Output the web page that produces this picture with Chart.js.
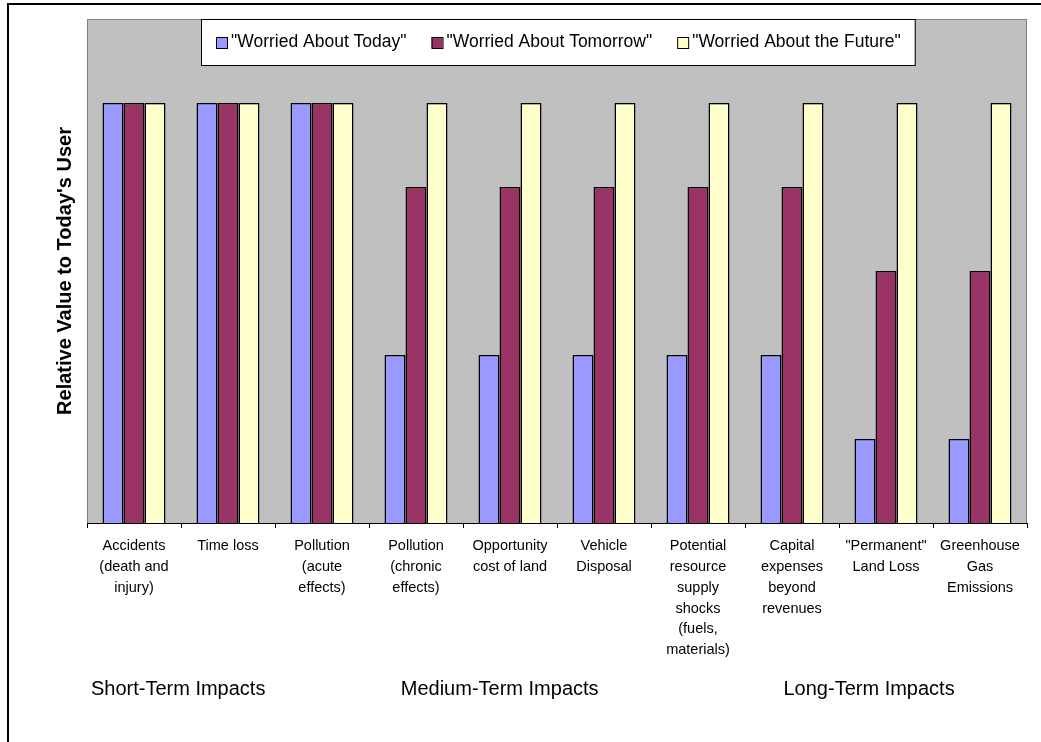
<!DOCTYPE html>
<html>
<head>
<meta charset="utf-8">
<script src="https://cdn.jsdelivr.net/npm/chart.js@4.4.0/dist/chart.umd.min.js"></script>
<style>
  body { margin: 0; background: #fff; }
  canvas { display: block; }
</style>
</head>
<body>
<canvas id="grafico" width="1041" height="742"></canvas>
<script>
const categorias = [
    ['Accidents', '(death and', 'injury)'],
    ['Time loss'],
    ['Pollution', '(acute', 'effects)'],
    ['Pollution', '(chronic', 'effects)'],
    ['Opportunity', 'cost of land'],
    ['Vehicle', 'Disposal'],
    ['Potential', 'resource', 'supply', 'shocks', '(fuels,', 'materials)'],
    ['Capital', 'expenses', 'beyond', 'revenues'],
    ['"Permanent"', 'Land Loss'],
    ['Greenhouse', 'Gas', 'Emissions']
];

const series = ['"Worried About Today"', '"Worried About Tomorrow"', '"Worried About the Future"'];

const hoje = [5, 5, 5, 2, 2, 2, 2, 2, 1, 1];
const amanha = [5, 5, 5, 4, 4, 4, 4, 4, 3, 3];
const futuro = [5, 5, 5, 5, 5, 5, 5, 5, 5, 5];

const grupos = ['Short-Term Impacts', 'Medium-Term Impacts', 'Long-Term Impacts'];

const fonte = 'Liberation Sans, Arial, sans-serif';

// fundo cinza + moldura externa
const fundo = {
    id: 'fundo',
    beforeDraw(chart) {
        const ctx = chart.ctx;
        const a = chart.chartArea;
        ctx.save();
        ctx.fillStyle = '#fff';
        ctx.fillRect(0, 0, chart.width, chart.height);
        ctx.fillStyle = '#c0c0c0';
        ctx.fillRect(a.left, a.top, a.right - a.left, a.bottom - a.top);
        ctx.strokeStyle = '#808080';
        ctx.lineWidth = 1;
        ctx.strokeRect(a.left + 0.5, a.top + 0.5, a.right - a.left - 1, a.bottom - a.top);
        // moldura preta
        ctx.strokeStyle = '#000';
        ctx.lineWidth = 2;
        ctx.beginPath();
        ctx.moveTo(8, chart.height + 2);
        ctx.lineTo(8, 4);
        ctx.lineTo(chart.width + 2, 4);
        ctx.stroke();
        ctx.restore();
    }
};

// legenda desenhada dentro da area, com caixa branca
const legenda = {
    id: 'legenda',
    afterDraw(chart) {
        const ctx = chart.ctx;
        const a = chart.chartArea;
        ctx.save();
        ctx.font = '17.5px ' + fonte;
        const larguras = chart.data.datasets.map(d => ctx.measureText(d.label).width);
        var total = 15 + 14;
        larguras.forEach((w, i) => { total += 11 + 4 + w + (i > 0 ? 25 : 0); });
        const x0 = Math.round((a.left + a.right) / 2 - total / 2) + 1;
        const y0 = a.top;
        ctx.fillStyle = '#fff';
        ctx.fillRect(x0, y0, total, 46);
        ctx.strokeStyle = '#000';
        ctx.lineWidth = 1;
        ctx.strokeRect(x0 + 0.5, y0 + 0.5, total, 46);
        var x = x0 + 15;
        chart.data.datasets.forEach((d, i) => {
            ctx.fillStyle = d.backgroundColor;
            ctx.fillRect(x, y0 + 18, 11, 11);
            ctx.strokeRect(x + 0.5, y0 + 18.5, 11, 11);
            ctx.fillStyle = '#000';
            ctx.textBaseline = 'middle';
            ctx.textAlign = 'left';
            ctx.fillText(d.label, x + 15, y0 + 23);
            x += 11 + 4 + larguras[i] + 25;
        });
        ctx.restore();
    }
};

// rotulos dos grupos embaixo
const rotulosGrupo = {
    id: 'rotulosGrupo',
    afterDraw(chart) {
        const ctx = chart.ctx;
        const xs = chart.scales.x;
        const onde = [0.47, 3.89, 7.82];
        ctx.save();
        ctx.font = '20px ' + fonte;
        ctx.fillStyle = '#000';
        ctx.textAlign = 'center';
        ctx.textBaseline = 'middle';
        grupos.forEach((g, i) => {
            ctx.fillText(g, xs.getPixelForValue(onde[i]), 689);
        });
        ctx.restore();
    }
};

const data = {
    labels: categorias,
    datasets: [{
        label: series[0],
        data: hoje,
        backgroundColor: '#9999ff',
        borderColor: '#000',
        borderWidth: 1.5
    }, {
        label: series[1],
        data: amanha,
        backgroundColor: '#993366',
        borderColor: '#000',
        borderWidth: 1.5
    }, {
        label: series[2],
        data: futuro,
        backgroundColor: '#ffffcc',
        borderColor: '#000',
        borderWidth: 1.5
    }]
};

const config = {
    type: 'bar',
    data: data,
    plugins: [fundo, legenda, rotulosGrupo],
    options: {
        responsive: false,
        animation: false,
        layout: { padding: { top: 19, right: 14, left: 0, bottom: 0 } },
        datasets: {
            bar: { categoryPercentage: 0.67, barPercentage: 1.0 }
        },
        plugins: {
            legend: { display: false },
            tooltip: { enabled: false }
        },
        scales: {
            x: {
                grid: {
                    display: true,
                    drawOnChartArea: false,
                    drawTicks: true,
                    tickLength: 5,
                    color: '#000',
                    offset: true
                },
                border: { display: true, color: '#000', width: 1 },
                ticks: {
                    autoSkip: false,
                    maxRotation: 0,
                    minRotation: 0,
                    padding: 8,
                    color: '#000',
                    font: { family: fonte, size: 14.5, lineHeight: 1.43 }
                },
                afterFit(scale) { scale.height = 742 - 523; }
            },
            y: {
                min: 0,
                max: 6,
                grid: { display: false },
                border: { display: false },
                ticks: { display: false },
                title: {
                    display: true,
                    text: "Relative Value to Today's User",
                    color: '#000',
                    font: { family: fonte, size: 20, weight: 'bold', lineHeight: 1.2 },
                    padding: { top: 53, bottom: 0 }
                },
                afterFit(scale) { scale.width = 87; }
            }
        }
    }
};

const myChart = new Chart(document.getElementById('grafico'), config);
</script>
</body>
</html>
